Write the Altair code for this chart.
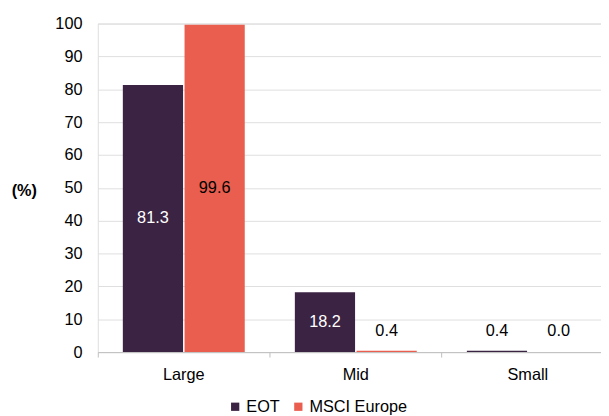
import altair as alt
import pandas as pd

categories = ["Large", "Mid", "Small"]
series = ["EOT", "MSCI Europe"]
eot_values = [81.3, 18.2, 0.4]
msci_values = [99.6, 0.4, 0.0]
colors = ["#3b2343", "#e95e4e"]

rows = []
for c, e, m in zip(categories, eot_values, msci_values):
    rows.append({"cat": c, "series": "EOT", "value": e})
    rows.append({"cat": c, "series": "MSCI Europe", "value": m})
df = pd.DataFrame(rows)

FONT = "Liberation Sans"
FS = 16.5

x_scale = alt.Scale(domain=categories, range=[0, 523], paddingInner=0, paddingOuter=0)
xoff_scale = alt.Scale(domain=series, paddingInner=0.024, paddingOuter=0.406)
y_scale = alt.Scale(domain=[0, 100], nice=False)

y_axis = alt.Axis(values=list(range(0, 101, 10)), title="(%)", titleAngle=0,
                  titleFont=FONT, titleFontSize=FS, titleFontWeight="bold",
                  titleColor="#000000", titleX=-75, titleY=169,
                  titleAlign="center", titleBaseline="middle",
                  labelFont=FONT, labelFontSize=FS, labelColor="#000000",
                  labelPadding=16, ticks=False, domain=False,
                  grid=True, gridColor="#dedede", gridWidth=1)

base = alt.Chart(df)

bars = base.mark_bar().encode(
    x=alt.X("cat:N", scale=x_scale, sort=categories,
            axis=alt.Axis(title=None, orient="bottom", labelAngle=0, labelFont=FONT,
                          labelFontSize=FS, labelColor="#000000", ticks=False, domain=False,
                          grid=False, labelPadding=15)),
    xOffset=alt.XOffset("series:N", scale=xoff_scale, sort=series),
    y=alt.Y("value:Q", scale=y_scale, axis=y_axis),
    color=alt.Color("series:N", scale=alt.Scale(domain=series, range=colors),
                    legend=alt.Legend(title=None, orient="none", direction="horizontal",
                                      legendX=131, legendY=380, symbolType="square",
                                      symbolSize=70, symbolStrokeWidth=0,
                                      labelFont=FONT, labelFontSize=FS, labelColor="#000000",
                                      symbolOffset=0, labelOffset=3, columnPadding=10)),
)

labels = base.transform_calculate(
    ypos="datum.value > 10 ? datum.value / 2 : 6.5",
).mark_text(font=FONT, fontSize=FS, baseline="middle").encode(
    x=alt.X("cat:N", scale=x_scale, sort=categories,
            axis=alt.Axis(title=None, orient="bottom", labels=False, bandPosition=0,
                          ticks=True, tickSize=5, tickColor="#bfbfbf", domain=True,
                          domainColor="#bfbfbf", grid=False)),
    xOffset=alt.XOffset("series:N", scale=xoff_scale, sort=series),
    y=alt.Y("ypos:Q", scale=y_scale, axis=y_axis),
    text=alt.Text("value:Q", format=".1f"),
    color=alt.condition("datum.value > 10 && datum.series == 'EOT'",
                        alt.value("#ffffff"), alt.value("#000000")),
)

chart = alt.layer(bars, labels).resolve_axis(x="independent").properties(
    width=510, height=333,
    autosize=alt.AutoSizeParams(type="none"),
    padding={"left": 91, "top": 13, "right": 0, "bottom": 62},
).configure_view(stroke="transparent", strokeWidth=0, strokeOpacity=0).configure_axisX(
    grid=False
).configure_axisY(domain=False).configure(background="#ffffff")

chart.save("out.html", embed_options={"renderer": "svg", "actions": False})
